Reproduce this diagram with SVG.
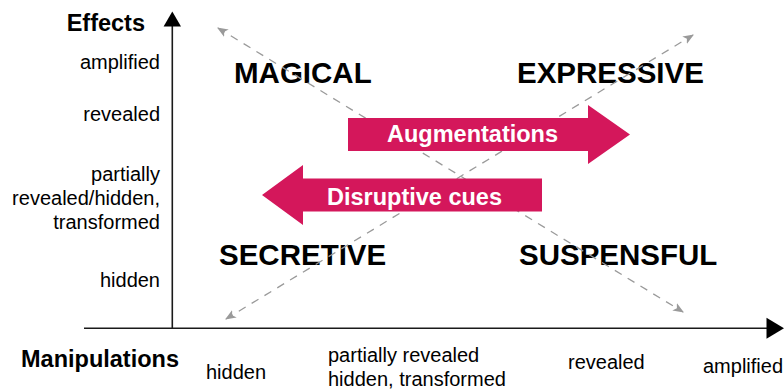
<svg xmlns="http://www.w3.org/2000/svg" width="784" height="392" viewBox="0 0 784 392">
<style>
  text { font-family: "Liberation Sans", Arial, Helvetica, sans-serif; fill: #000; }
  .axisTitle { font-size: 23.5px; font-weight: bold; }
  .tick { font-size: 20px; }
  .quad { font-size: 29.5px; font-weight: bold; }
  .band { fill: #D4175B; }
  .bandText { font-size: 23.5px; font-weight: bold; fill: #FFFFFF; text-anchor: middle; }
  .axis { stroke: #1a1a1a; stroke-width: 1.6; fill: none; }
  .dash { stroke: #9a9a9a; stroke-width: 1.3; stroke-dasharray: 8 7; fill: none; }
</style>
<defs>
  <marker id="gh" viewBox="0 0 10 8" refX="9" refY="4" markerWidth="11" markerHeight="9" markerUnits="userSpaceOnUse" orient="auto-start-reverse">
    <path d="M0,0 L10,4 L0,8 L2.5,4 Z" fill="#9a9a9a"/>
  </marker>
</defs>
<rect width="784" height="392" fill="#FFFFFF"/>

<g id="quadrant-labels">
  <text id="magical" class="quad" x="234" y="83">MAGICAL</text>
  <text id="expressive" class="quad" x="517" y="83">EXPRESSIVE</text>
  <text id="secretive" class="quad" x="219" y="264.5">SECRETIVE</text>
  <text id="suspensful" class="quad" x="519" y="264.5">SUSPENSFUL</text>
</g>

<g id="connectors">
  <line class="dash" x1="218" y1="28" x2="683" y2="312" marker-start="url(#gh)" marker-end="url(#gh)"/>
  <line class="dash" x1="226" y1="319" x2="693" y2="35" marker-start="url(#gh)" marker-end="url(#gh)"/>
</g>

<g id="augmentations">
  <polygon class="band" points="348,118 588,118 588,105 630,134.5 588,164 588,151 348,151"/>
  <text class="bandText" x="472.5" y="142">Augmentations</text>
</g>

<g id="disruptive-cues">
  <polygon class="band" points="542,178.5 303,178.5 303,165 262,195 303,225 303,211.5 542,211.5"/>
  <text class="bandText" x="414.5" y="205">Disruptive cues</text>
</g>

<g id="axes">
  <line class="axis" x1="172.3" y1="328.3" x2="172.3" y2="25"/>
  <polygon points="172.3,11.5 181,26.5 163.6,26.5" fill="#000"/>
  <line class="axis" x1="84" y1="328.3" x2="768" y2="328.3"/>
  <polygon points="784,328.3 766.5,317.8 766.5,338.8" fill="#000"/>
</g>

<g id="effects-axis-labels">
  <text class="axisTitle" x="145" y="31" text-anchor="end">Effects</text>
  <text class="tick" x="160" y="69" text-anchor="end">amplified</text>
  <text class="tick" x="160" y="120.5" text-anchor="end">revealed</text>
  <text class="tick" x="160" y="181" text-anchor="end">partially</text>
  <text class="tick" x="160" y="205" text-anchor="end">revealed/hidden,</text>
  <text class="tick" x="160" y="228.5" text-anchor="end">transformed</text>
  <text class="tick" x="160" y="286.5" text-anchor="end">hidden</text>
</g>

<g id="manipulations-axis-labels">
  <text class="axisTitle" x="21" y="367">Manipulations</text>
  <text class="tick" x="206" y="379">hidden</text>
  <text class="tick" x="328" y="362">partially revealed</text>
  <text class="tick" x="328" y="385.5">hidden, transformed</text>
  <text class="tick" x="568" y="368.5">revealed</text>
  <text class="tick" x="703" y="373">amplified</text>
</g>
</svg>
